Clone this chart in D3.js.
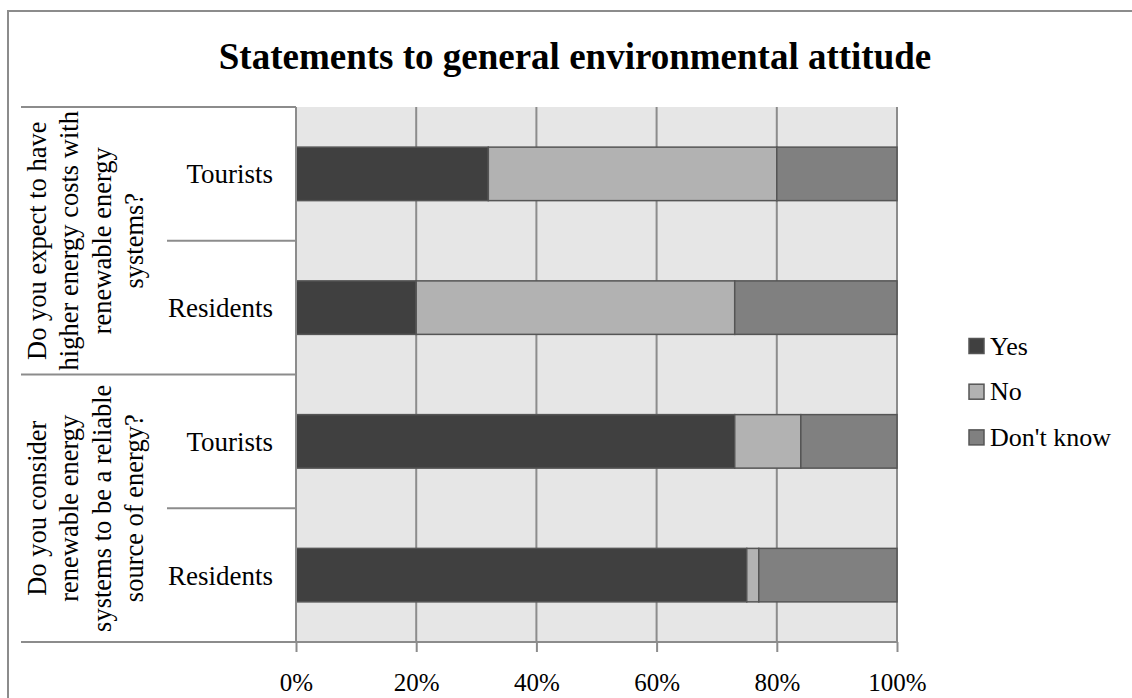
<!DOCTYPE html>
<html>
<head>
<meta charset="utf-8">
<script src="https://cdn.jsdelivr.net/npm/d3@7"></script>
<style>
  html, body { margin: 0; padding: 0; background: #fff; }
  svg text { font-family: "Liberation Serif", "Times New Roman", serif; fill: #000; }
</style>
</head>
<body>
<svg id="chart" width="1132" height="698"></svg>
<script>
// Survey questions (each split into the lines it is printed on)
const questions = [
  ["Do you expect to have", "higher energy costs with", "renewable energy", "systems?"],
  ["Do you consider", "renewable energy", "systems to be a reliable", "source of energy?"]
];
const respondents = ["Tourists", "Residents"];

// Answer shares in percent, one entry per row (question × respondent group)
const yesValues      = [32, 20, 73, 75];
const noValues       = [48, 53, 11, 2];
const dontKnowValues = [20, 27, 16, 23];

const seriesNames  = ["Yes", "No", "Don't know"];
const seriesColors = ["#404040", "#b2b2b2", "#808080"];
const tickValues   = [0, 20, 40, 60, 80, 100];

const titleText = "Statements to general environmental attitude";

// ---- build rows ----
const rows = [];
questions.forEach((q, qi) => {
  respondents.forEach((r, ri) => {
    const i = qi * respondents.length + ri;
    rows.push({
      key: qi + "|" + r, question: qi, group: r,
      "Yes": yesValues[i], "No": noValues[i], "Don't know": dontKnowValues[i]
    });
  });
});

const svg = d3.select("#chart");
const W = 1132, H = 698;
const plot = { left: 296, right: 897, top: 107, bottom: 642 };
const tableLeft = 21, subLeft = 167;
const lineColor = "#8c8c8c";

// outer chart frame
svg.append("rect")
  .attr("x", 8).attr("y", 11).attr("width", W + 20).attr("height", H + 20)
  .attr("fill", "none").attr("stroke", lineColor).attr("stroke-width", 2);

// title
svg.append("text")
  .attr("x", 575).attr("y", 69)
  .attr("text-anchor", "middle")
  .style("font-size", "37px").style("font-weight", "bold")
  .text(titleText);

// scales
const x = d3.scaleLinear().domain([0, 100]).range([plot.left, plot.right]);
const y = d3.scaleBand().domain(rows.map(d => d.key)).range([plot.top, plot.bottom]).padding(0);
const qScale = d3.scaleBand().domain(d3.range(questions.length)).range([plot.top, plot.bottom]).padding(0);
const color = d3.scaleOrdinal().domain(seriesNames).range(seriesColors);

// plot background
svg.append("rect")
  .attr("x", plot.left).attr("y", plot.top)
  .attr("width", plot.right - plot.left).attr("height", plot.bottom - plot.top)
  .attr("fill", "#e6e6e6");

// vertical gridlines
svg.append("g").selectAll("line")
  .data(tickValues.filter(v => v > 0))
  .join("line")
  .attr("x1", d => x(d)).attr("x2", d => x(d))
  .attr("y1", plot.top).attr("y2", plot.bottom)
  .attr("stroke", lineColor).attr("stroke-width", 2);

// stacked bars
const stack = d3.stack().keys(seriesNames);
const stacked = stack(rows);
const barFrac = 0.4;
svg.append("g").selectAll("g")
  .data(stacked)
  .join("g")
  .attr("fill", d => color(d.key))
  .selectAll("rect")
  .data(d => d)
  .join("rect")
  .attr("x", d => x(d[0]))
  .attr("width", d => x(d[1]) - x(d[0]))
  .attr("y", d => y(d.data.key) + y.bandwidth() * (1 - barFrac) / 2)
  .attr("height", y.bandwidth() * barFrac)
  .attr("stroke", "#555555").attr("stroke-width", 1.5);

// bottom axis
const xAxis = d3.axisBottom(x)
  .tickValues(tickValues)
  .tickFormat(d => d + "%")
  .tickSize(10)
  .tickSizeOuter(0);
const axG = svg.append("g")
  .attr("transform", `translate(0,${plot.bottom})`)
  .call(xAxis);
axG.select(".domain").remove();
axG.selectAll(".tick line").attr("stroke", lineColor).attr("stroke-width", 2);
axG.selectAll(".tick text")
  .attr("y", 49).attr("dy", null)
  .attr("fill", "#000")
  .style("font-size", "25px")
  .style("font-family", "'Liberation Serif', 'Times New Roman', serif");

// axis baseline, extended under the category table
svg.append("line")
  .attr("x1", tableLeft).attr("x2", plot.right)
  .attr("y1", plot.bottom).attr("y2", plot.bottom)
  .attr("stroke", lineColor).attr("stroke-width", 2);

// vertical category axis line
svg.append("line")
  .attr("x1", plot.left).attr("x2", plot.left)
  .attr("y1", plot.top).attr("y2", plot.bottom)
  .attr("stroke", lineColor).attr("stroke-width", 2);

// question dividers (full table width)
svg.append("g").selectAll("line")
  .data(d3.range(questions.length))
  .join("line")
  .attr("x1", tableLeft).attr("x2", plot.left)
  .attr("y1", d => qScale(d)).attr("y2", d => qScale(d))
  .attr("stroke", lineColor).attr("stroke-width", 2);

// respondent dividers inside each question
svg.append("g").selectAll("line")
  .data(rows.filter((d, i) => i % respondents.length !== 0))
  .join("line")
  .attr("x1", subLeft).attr("x2", plot.left)
  .attr("y1", d => y(d.key)).attr("y2", d => y(d.key))
  .attr("stroke", lineColor).attr("stroke-width", 2);

// respondent labels
svg.append("g").selectAll("text")
  .data(rows)
  .join("text")
  .attr("x", 273)
  .attr("y", d => y(d.key) + y.bandwidth() / 2)
  .attr("dy", "0.35em")
  .attr("text-anchor", "end")
  .style("font-size", "27px")
  .text(d => d.group);

// rotated question labels
const lh = 32.5;
const qLabels = svg.append("g").selectAll("text")
  .data(questions)
  .join("text")
  .attr("transform", (d, i) => `translate(85,${qScale(i) + qScale.bandwidth() / 2}) rotate(-90)`)
  .attr("text-anchor", "middle")
  .style("font-size", "26.5px");
qLabels.selectAll("tspan")
  .data(d => d.map((t, j) => ({ t, j, n: d.length })))
  .join("tspan")
  .attr("x", 0)
  .attr("y", d => (d.j - (d.n - 1) / 2) * lh)
  .attr("dy", "0.35em")
  .text(d => d.t);

// legend
const legend = svg.append("g").selectAll("g")
  .data(seriesNames)
  .join("g")
  .attr("transform", (d, i) => `translate(969,${346 + i * 45.7})`);
legend.append("rect")
  .attr("x", 0).attr("y", -7.5).attr("width", 15).attr("height", 15)
  .attr("fill", d => color(d))
  .attr("stroke", "#555555").attr("stroke-width", 1.5);
legend.append("text")
  .attr("x", 21).attr("y", 0).attr("dy", "0.33em")
  .style("font-size", "26px")
  .text(d => d);
</script>
</body>
</html>
